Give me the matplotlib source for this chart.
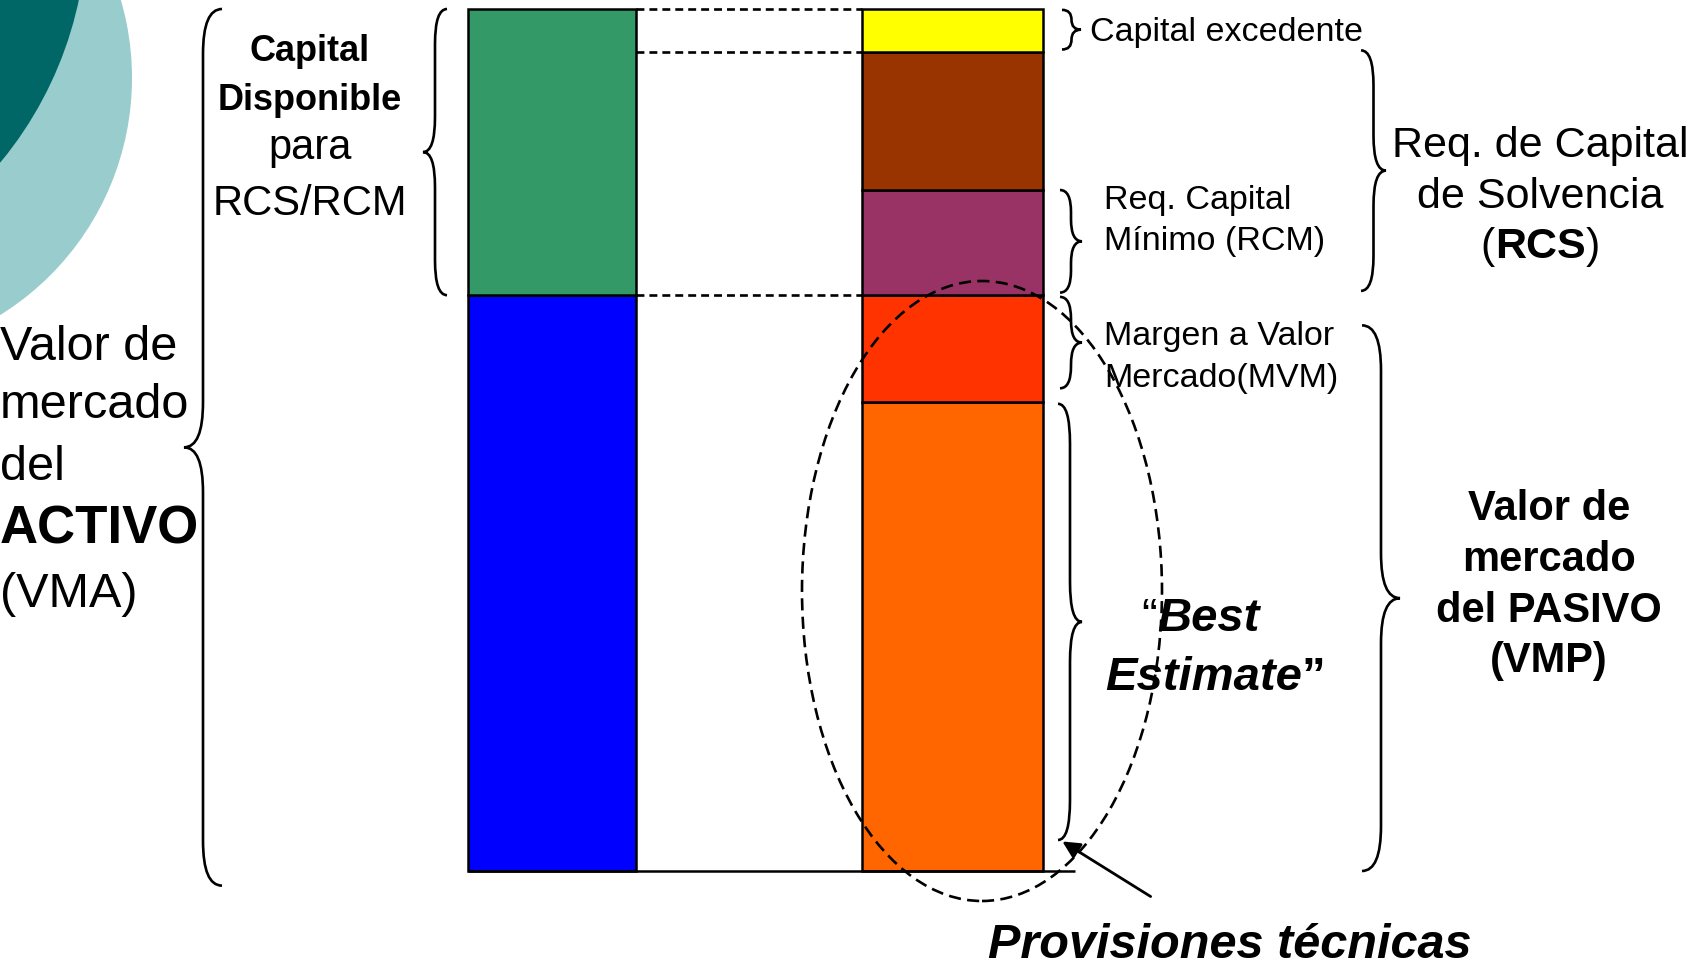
import matplotlib
matplotlib.use("Agg")
import matplotlib.pyplot as plt
from matplotlib.patches import Circle, Ellipse, PathPatch
from matplotlib.path import Path

plt.rcParams["font.family"] = ["Liberation Sans", "DejaVu Sans"]

# Balance sheet under Solvency II, as % of the market value of assets
asset_labels = ["VMA que cubre VMP", "Capital disponible"]
asset_values = [66.8, 33.2]
asset_colors = ["#0000FF", "#339966"]

liab_labels = ["Best Estimate", "MVM", "RCM", "RCS (resto)", "Capital excedente"]
liab_values = [54.4, 12.4, 12.2, 16.0, 5.0]
liab_colors = ["#FF6600", "#FF3300", "#993366", "#993300", "#FFFF00"]

W, H = 1700, 967
BASE_PX = 871          # pixel row of the zero line
PX_PER_UNIT = 8.62     # vertical pixels per % point
UNIT = 1.0 / PX_PER_UNIT


def py(p):
    """Pixel row -> value units on the main axes."""
    return (BASE_PX - p) * UNIT


fig = plt.figure(figsize=(W / 100, H / 100), dpi=100)

# decorative circles in the corner
bg = fig.add_axes([0, 0, 1, 1])
bg.set_xlim(0, W)
bg.set_ylim(H, 0)
bg.axis("off")
bg.add_patch(Circle((-147, 78), 279, color="#99CCCC", lw=0))
bg.add_patch(Circle((-290, -78), 377, color="#006666", lw=0))

ax = fig.add_axes([0, 0, 1, 1])
ax.set_xlim(0, W)
ax.set_ylim(py(H), py(0))
ax.axis("off")
ax.patch.set_alpha(0)

# stacked columns
left_x, left_w = 552, 168
right_x, right_w = 952.5, 181

bottom = 0.0
asset_tops = []
for v, c in zip(asset_values, asset_colors):
    ax.bar(left_x, v, bottom=bottom, width=left_w, color=c,
           edgecolor="black", linewidth=1.8, zorder=2)
    bottom += v
    asset_tops.append(bottom)

bottom = 0.0
liab_tops = []
liab_bottoms = []
for v, c in zip(liab_values, liab_colors):
    ax.bar(right_x, v, bottom=bottom, width=right_w, color=c,
           edgecolor="black", linewidth=1.8, zorder=2)
    liab_bottoms.append(bottom)
    bottom += v
    liab_tops.append(bottom)

x_gap0 = left_x + left_w / 2
x_gap1 = right_x - right_w / 2
for level in (liab_tops[-1], liab_bottoms[-1], asset_tops[0]):
    ax.hlines(level, x_gap0, x_gap1, colors="black", linestyles=(0, (3.0, 1.9)),
              linewidth=1.9, zorder=1)
ax.hlines(0, left_x - left_w / 2, 1075, colors="black", linewidth=1.8, zorder=3)


def brace(x, y0, y1, w, curl=38, lw=1.9):
    """Curly brace with open ends at x, tip at x + w (w<0 points left)."""
    c = min(curl * UNIT, (y1 - y0) / 4)
    ym = (y0 + y1) / 2
    xm = x + w / 2
    verts = [(x, y1), (xm, y1), (xm, y1 - c),
             (xm, ym + c),
             (xm, ym), (x + w, ym),
             (xm, ym), (xm, ym - c),
             (xm, y0 + c),
             (xm, y0), (x, y0)]
    codes = [Path.MOVETO, Path.CURVE3, Path.CURVE3,
             Path.LINETO,
             Path.CURVE3, Path.CURVE3,
             Path.CURVE3, Path.CURVE3,
             Path.LINETO,
             Path.CURVE3, Path.CURVE3]
    ax.add_patch(PathPatch(Path(verts, codes), fill=False, lw=lw,
                           edgecolor="black", zorder=4))


brace(222, -1.7, liab_tops[-1], -38, curl=45)                  # VMA
brace(447, asset_tops[0], asset_tops[1], -24, curl=35)         # capital disponible
brace(1062, liab_bottoms[4] + 0.3, liab_tops[4] - 0.1, 19, curl=12)  # excedente
brace(1060, liab_bottoms[2] + 0.3, liab_tops[2], 22, curl=22)  # RCM
brace(1060, 56.0, liab_tops[1] - 0.2, 22, curl=22)             # MVM
brace(1058, 3.6, liab_tops[0] - 0.2, 24, curl=40)              # best estimate
brace(1361, liab_bottoms[2] + 0.5, liab_bottoms[4] + 0.2, 25, curl=35)  # RCS
brace(1362, 0, 63.3, 38, curl=45)                              # VMP

# dashed ellipse around the technical provisions
ax.add_patch(Ellipse((982, py(591)), 360, 620 * UNIT, fill=False,
                     edgecolor="black", lw=1.9, linestyle=(0, (4.6, 2.4)), zorder=5))

ax.annotate("", xy=(1060, py(840)), xytext=(1153, py(898)),
            arrowprops=dict(arrowstyle="-|>", color="black", lw=2.0,
                            mutation_scale=26), zorder=6)


def txt(x, ypx, s, size, weight="normal", style="normal", ha="center"):
    return ax.text(x, py(ypx), s, fontsize=size, fontweight=weight,
                   fontstyle=style, ha=ha, va="baseline", zorder=7)


renderer = fig.canvas.get_renderer()


def rich(x, ypx, parts, size):
    """Centred line made of (text, weight, style) pieces."""
    items = [ax.text(0, py(ypx), s, fontsize=size, fontweight=wt, fontstyle=st,
                     ha="left", va="baseline", zorder=7) for s, wt, st in parts]
    widths = [t.get_window_extent(renderer).width for t in items]
    cur = x - sum(widths) / 2
    for t, wd in zip(items, widths):
        t.set_x(cur)
        cur += wd


# left block: assets
txt(0, 360, "Valor de", 35, ha="left")
txt(0, 418, "mercado", 35, ha="left")
txt(0, 480, "del", 35, ha="left")
txt(0, 544, "ACTIVO", 38, weight="bold", ha="left")
txt(0, 607, "(VMA)", 35, ha="left")

txt(310, 61, "Capital", 26, weight="bold")
txt(310, 110, "Disponible", 26, weight="bold")
txt(310, 159, "para", 30)
txt(310, 215, "RCS/RCM", 30)

# right labels
txt(1090, 41, "Capital excedente", 24.5, ha="left")
txt(1104, 209, "Req. Capital", 24.5, ha="left")
txt(1104, 250, "Mínimo (RCM)", 24.5, ha="left")
txt(1104, 345, "Margen a Valor", 24.5, ha="left")
txt(1104, 387, "Mercado(MVM)", 24.5, ha="left")

txt(1540, 157, "Req. de Capital", 31)
txt(1540, 208, "de Solvencia", 31)
rich(1540, 258, [("(", "normal", "normal"), ("RCS", "bold", "normal"),
                 (")", "normal", "normal")], 31)

txt(1549, 520, "Valor de", 30, weight="bold")
txt(1549, 571, "mercado", 30, weight="bold")
txt(1549, 622, "del PASIVO", 30, weight="bold")
txt(1549, 672, "(VMP)", 30, weight="bold")

rich(1200, 631, [("\u201c", "normal", "normal"), ("Best", "bold", "italic")], 34)
rich(1215, 690, [("Estimate", "bold", "italic"), ("\u201d", "bold", "normal")], 34)

txt(1230, 958, "Provisiones técnicas", 35, weight="bold", style="italic")

fig.savefig("out.png", dpi=100)
